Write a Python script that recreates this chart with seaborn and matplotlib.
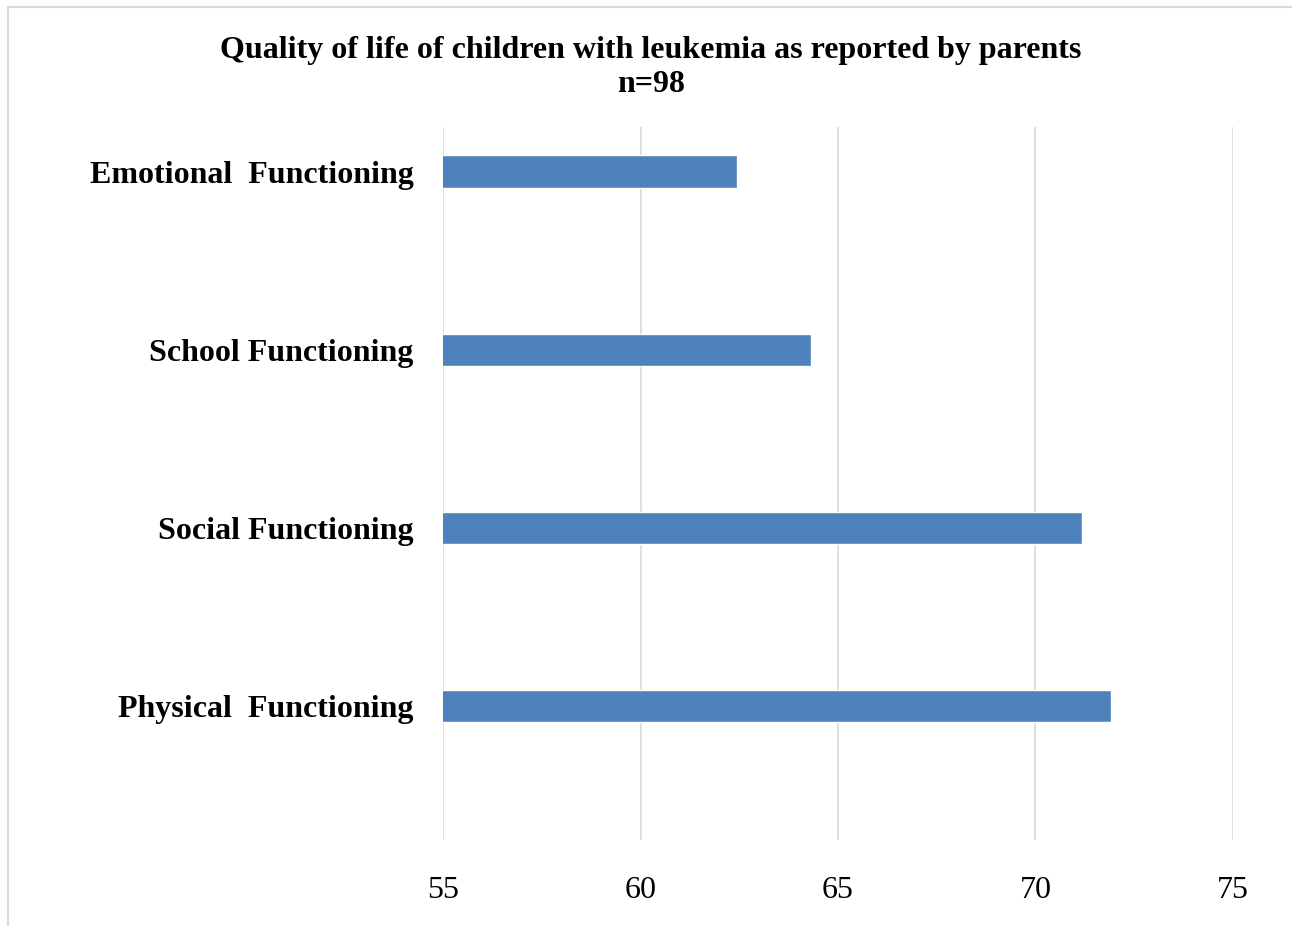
import pandas as pd
import seaborn as sns
import matplotlib.pyplot as plt
from matplotlib.patches import Rectangle

# Mean PedsQL scores, as reported by parents
domains = ['Emotional  Functioning', 'School Functioning',
           'Social Functioning', 'Physical  Functioning']
scores = [62.44, 64.32, 71.18, 71.91]
x_ticks = [55, 60, 65, 70, 75]

df = pd.DataFrame({'Domain': domains, 'Score': scores})

sns.set_style("white")
plt.rcParams['font.family'] = ['Liberation Serif', 'DejaVu Serif']
plt.rcParams['text.color'] = 'black'
plt.rcParams['xtick.color'] = 'black'
plt.rcParams['ytick.color'] = 'black'

fig = plt.figure(figsize=(12.92, 9.26), dpi=100)
ax = fig.add_axes([0.3429, 0.0929, 0.6114, 0.77])

sns.barplot(data=df, x='Score', y='Domain', orient='h', color='#4F81BD',
            width=0.18, saturation=1, ax=ax)

ax.set_xlim(55, 75)
ax.set_ylim(3.75, -0.25)
ax.set_xticks(x_ticks)
ax.set_xticklabels([str(t) for t in x_ticks], fontsize=23)
ax.tick_params(axis='x', length=0, pad=26)
ax.tick_params(axis='y', length=0, pad=21)
for lbl in ax.get_yticklabels():
    lbl.set_fontsize(23)
    lbl.set_fontweight('bold')
ax.set_xlabel('')
ax.set_ylabel('')
ax.xaxis.grid(True, color='#D9D9D9', linewidth=1.2)
ax.set_axisbelow(True)
for s in ax.spines.values():
    s.set_visible(False)

fig.text(0.504, 0.946, 'Quality of life of children with leukemia as reported by parents',
         ha='center', va='center', fontsize=23, fontweight='bold')
fig.text(0.504, 0.909, 'n=98', ha='center', va='center',
         fontsize=23, fontweight='bold')

# light chart border
fig.patches.append(Rectangle((8 / 1292, -0.01), 1.02, 1 - 7 / 926 + 0.01,
                             transform=fig.transFigure, fill=False,
                             edgecolor='#D9D9D9', linewidth=1.5))

fig.savefig('out.png', dpi=100)
